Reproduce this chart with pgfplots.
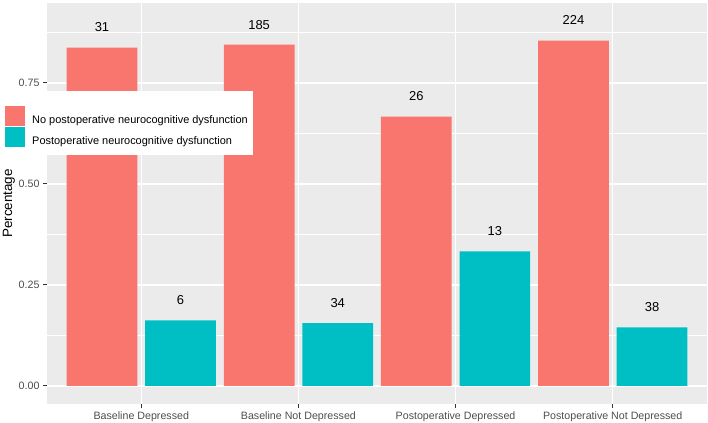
\documentclass[border=0pt]{standalone}
\usepackage{fontspec}
\setmainfont{Liberation Sans}
\usepackage{pgfplots}
\usepackage{pgfplotstable}
\pgfplotsset{compat=1.18}
\definecolor{cred}{HTML}{F8766D}
\definecolor{cteal}{HTML}{00BFC4}
\definecolor{panel}{HTML}{EBEBEB}
\definecolor{ticklab}{HTML}{4D4D4D}
\definecolor{tickmk}{HTML}{333333}

\pgfplotstableread{
x y n
1 0.8378 31
2 0.8447 185
3 0.6667 26
4 0.8550 224
}\nopnd
\pgfplotstableread{
x y n
1 0.1622 6
2 0.1553 34
3 0.3333 13
4 0.1450 38
}\pnd

\begin{document}
\begin{tikzpicture}
\begin{axis}[
  name=ax,
  ybar, bar width=0.45,
  scale only axis, width=660bp, height=401bp,
  xmin=0.4, xmax=4.6, ymin=-0.04455, ymax=0.948,
  axis background/.style={fill=panel},
  axis line style={draw=none},
  xtick={1,2,3,4},
  xticklabels={Baseline Depressed, Baseline Not Depressed, Postoperative Depressed, Postoperative Not Depressed},
  ytick={0,0.25,0.5,0.75},
  minor ytick={0.125,0.375,0.625,0.875},
  grid=both,
  major grid style={white, line width=1.1bp},
  minor grid style={white, line width=0.55bp},
  tick align=outside, tick pos=left,
  major tick length=4bp, minor tick length=0pt,
  tick style={color=tickmk, line width=1bp},
  tick label style={font=\fontsize{10.7}{12}\selectfont, text=ticklab},
  yticklabel style={/pgf/number format/.cd, fixed, fixed zerofill, precision=2, assume math mode=true},
  ylabel={Percentage},
  ylabel style={font=\fontsize{13.5}{16}\selectfont, at={(axis description cs:-0.0576,0.5)}, anchor=center},
  legend style={at={(axis description cs:-0.0712,0.7805)}, anchor=north west,
    draw=none, fill=white, inner xsep=5bp, inner ysep=8bp,
    font=\fontsize{11}{13}\selectfont, nodes={inner sep=0pt}, row sep=1bp,
    /tikz/every odd column/.append style={column sep=7bp}},
  legend cell align=left,
  nodes near coords,
  point meta=explicit symbolic,
  nodes near coords style={font=\fontsize{13}{15}\selectfont, text=black, anchor=south, inner sep=0pt, yshift=15.4bp},
]
\addplot[bar shift=-0.25, fill=cred, draw=none,
  legend image code/.code={\fill[cred] (0bp,-6bp) rectangle (20bp,14bp); \path (0bp,21bp);}]
  table[x=x, y=y, meta=n] {\nopnd};
\addlegendentry{No postoperative neurocognitive dysfunction}
\addplot[bar shift=0.25, fill=cteal, draw=none,
  legend image code/.code={\fill[cteal] (0bp,-6bp) rectangle (20bp,14bp);}]
  table[x=x, y=y, meta=n] {\pnd};
\addlegendentry{Postoperative neurocognitive dysfunction}
\end{axis}
\pgfresetboundingbox
\useasboundingbox ([xshift=-47bp,yshift=-19bp]ax.south west) rectangle ([xshift=1bp,yshift=3bp]ax.north east);
\end{tikzpicture}
\end{document}
